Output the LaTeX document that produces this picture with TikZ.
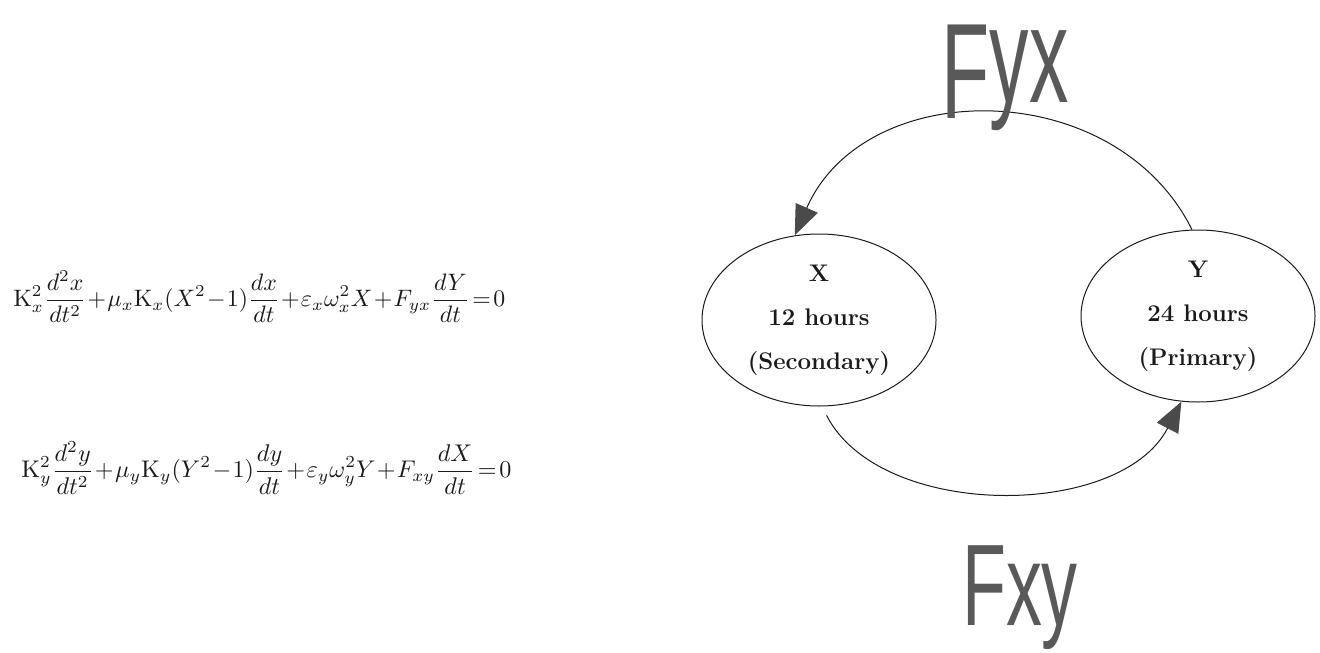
\documentclass[tikz,border=0pt]{standalone}
\usepackage{amsmath}
\usepackage{fontspec}
\newfontfamily\handfont{Liberation Sans}
\usetikzlibrary{arrows.meta, shapes.geometric}
\definecolor{ink}{HTML}{1A1A1A}
\definecolor{tipgray}{HTML}{4A4A4A}
\definecolor{scrawl}{HTML}{595959}
\newcommand{\tighteq}{\medmuskip=1mu\thickmuskip=2mu\thinmuskip=1mu}
\tikzset{
  oscill/.style={ellipse, draw=ink, line width=0.5pt, minimum width=117pt, minimum height=86pt,
                 inner sep=0pt, align=center, text=ink, font=\bfseries\fontsize{12}{22}\selectfont},
  coupling/.style={-{Triangle[length=15pt, width=12pt, color=tipgray]}, draw=ink, line width=0.5pt},
  forcelabel/.style={text=scrawl, inner sep=0pt, anchor=base},
  eqn/.style={inner sep=0pt, text=ink, anchor=west},
}

\begin{document}
\begin{tikzpicture}[x=0.5pt, y=-0.5pt]
  \useasboundingbox (0,0) rectangle (1320,652);

  % --- coupled oscillator equations ---
  \node[eqn] (eqx) at (13,297) {\resizebox{246pt}{!}{\tighteq$\displaystyle
    \mathrm{K}_x^2\frac{d^2x}{dt^2}+\mu_x\mathrm{K}_x(X^2-1)\frac{dx}{dt}+\varepsilon_x\omega_x^2X+F_{yx}\frac{dY}{dt}=0$}};
  \node[eqn] (eqy) at (21,468) {\resizebox{245pt}{!}{\tighteq$\displaystyle
    \mathrm{K}_y^2\frac{d^2y}{dt^2}+\mu_y\mathrm{K}_y(Y^2-1)\frac{dy}{dt}+\varepsilon_y\omega_y^2Y+F_{xy}\frac{dX}{dt}=0$}};

  % --- the two oscillators ---
  \node[oscill] (secx)  at (819,320)  {X\\ 12 hours\\ (Secondary)};
  \node[oscill] (primy) at (1198,316) {Y\\ 24 hours\\ (Primary)};

  % --- coupling paths ---
  \draw[coupling] (primy.94) .. controls (1115,75) and (865,75) .. (secx.106);
  \draw[coupling, shorten <=5pt] (secx.272) .. controls (880,520) and (1120,520) .. (primy.259);

  % --- coupling force labels ---
  \node[forcelabel, font=\handfont\fontsize{68}{68}\selectfont] (fyx) at (1005,119)
       {\scalebox{0.58}[1]{F\raisebox{8pt}{yx}}};
  \node[forcelabel, font=\handfont\fontsize{58}{58}\selectfont] (fxy) at (1020,625)
       {\scalebox{0.62}[1]{Fxy}};
\end{tikzpicture}
\end{document}
